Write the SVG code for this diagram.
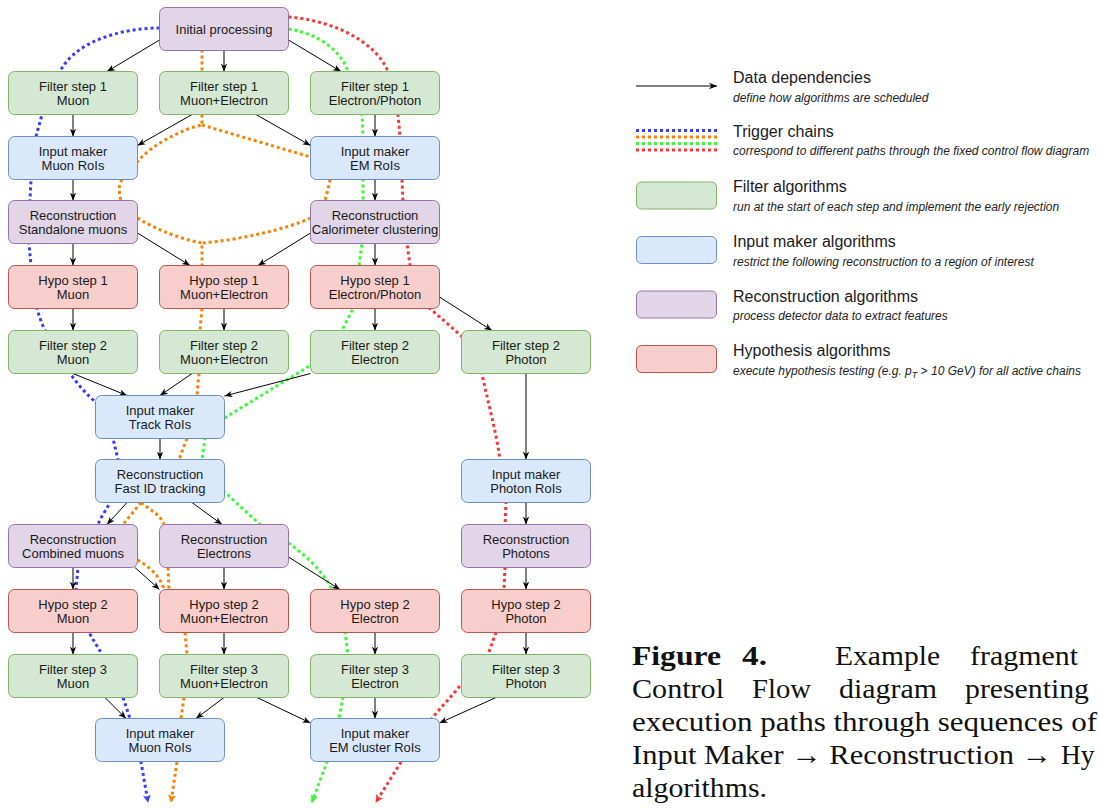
<svg xmlns="http://www.w3.org/2000/svg" width="1099" height="809" viewBox="0 0 1099 809">
<style>
.filter{fill:#d5e8d4;stroke:#82b366;stroke-width:1}
.input{fill:#dae8fc;stroke:#6c8ebf;stroke-width:1}
.reco{fill:#e1d5e7;stroke:#9673a6;stroke-width:1}
.hypo{fill:#f8cecc;stroke:#b85450;stroke-width:1}
.lbl{font-family:"Liberation Sans",Arial,sans-serif;font-size:13px;fill:#1a1a1a;text-anchor:middle}
.edge{fill:none;stroke:#000;stroke-width:1;marker-end:url(#ah)}
.chain{fill:none;stroke-width:3;stroke-dasharray:3 3}
.cb{stroke:#3a3aff}.co{stroke:#ff8000}.cg{stroke:#33ff33}.cr{stroke:#ff3333}
.lt{font-family:"Liberation Sans",Arial,sans-serif;font-size:16px;fill:#1a1a1a}
.ls{font-family:"Liberation Sans",Arial,sans-serif;font-size:12px;font-style:italic;fill:#222}
.cap{font-family:"Liberation Serif","Times New Roman",serif;font-size:27.5px;fill:#111}
</style>
<defs>
<marker id="ah" viewBox="0 0 10 10" refX="10" refY="5" markerWidth="8" markerHeight="8" orient="auto" markerUnits="userSpaceOnUse"><path d="M0,1 L10,5 L0,9 L3,5 z" fill="#000"/></marker>
<marker id="mb" viewBox="0 0 10 10" refX="9" refY="5" markerWidth="8" markerHeight="8" orient="auto" markerUnits="userSpaceOnUse"><path d="M0,0 L10,5 L0,10 L2.5,5 z" fill="#3a3aff"/></marker>
<marker id="mo" viewBox="0 0 10 10" refX="9" refY="5" markerWidth="8" markerHeight="8" orient="auto" markerUnits="userSpaceOnUse"><path d="M0,0 L10,5 L0,10 L2.5,5 z" fill="#ff8000"/></marker>
<marker id="mg" viewBox="0 0 10 10" refX="9" refY="5" markerWidth="8" markerHeight="8" orient="auto" markerUnits="userSpaceOnUse"><path d="M0,0 L10,5 L0,10 L2.5,5 z" fill="#33ff33"/></marker>
<marker id="mr" viewBox="0 0 10 10" refX="9" refY="5" markerWidth="8" markerHeight="8" orient="auto" markerUnits="userSpaceOnUse"><path d="M0,0 L10,5 L0,10 L2.5,5 z" fill="#ff3333"/></marker>
</defs>
<rect width="1099" height="809" fill="#fff"/>

<g id="connectors">
<g id="chains">
<path class="chain cb" marker-end="url(#mb)" d="M159.5,28 C120,28 75,42 60,71.5 L42,114.5 C40,122 38,129 36,136.5 L31,179.5 L30,200.5 L29,243.5 L31,265.5 L37,308.5 C39,316 42,324 45,330.5 L70,373.5 C77,383 85,393 95.5,402 L113,438.5 L118,459.5 L110,502.5 C106,510 101,517 98,524.5 L78,567.5 L76,589.5 L89,632.5 C93,640 98,647 102,654.5 L123,697.5 L130,718.5 L141,762 L148,802"/>
<path class="chain co" d="M202,49.5 L202,71.5 M202,114.5 L202,125 C185,128 150,145 137.5,162 M202,125 L310.5,157 M122,179.5 C118,186 119,193 121,200.5 M330,179.5 C329,186 327,193 325,200.5 M137.5,218 C150,226 175,238 202,243 L202,265.5 M310.5,218 C290,228 240,240 202,243 M202,308.5 L200,330.5 M199,373.5 L197,395.5 M187,438.5 L179,459.5 M141,502.5 L123,524.5 M141,502.5 C150,510 160,514 164,524.5 M137.5,560 C148,566 160,575 164,589.5 M168,567.5 L169,589.5 M185,632.5 L187,654.5 M184,697.5 L181,718.5"/>
<path class="chain co" marker-end="url(#mo)" d="M177,762 L171,802"/>
<path class="chain cg" marker-end="url(#mg)" d="M288.5,29 C315,33 340,48 348,71.5 L362,114.5 L363,136.5 L363,179.5 L363,200.5 L362,243.5 L359,265.5 L353,308.5 L342,330.5 L311,365 L224.5,418 L205,438.5 L202,459.5 L224.5,492 L260,524.5 L288.5,543 C305,555 322,570 332,589.5 L345,632.5 L348,654.5 L343,697.5 L339,718.5 L327,762 L312,802"/>
<path class="chain cr" marker-end="url(#mr)" d="M288.5,17 C330,20 375,40 388,71.5 L398,114.5 L400,136.5 L402,179.5 L403,200.5 L407,243.5 L410,265.5 L430,308.5 L461.5,336 L482,373.5 C486,395 496,430 500,459.5 L506,502.5 L505,524.5 L505,567.5 L504,589.5 L496,632.5 L488,654.5 L461.5,684 C452,696 441,707 432,718.5 L401,762 L376,802"/>
</g>
<g id="edges">
<path class="edge" d="M159.5,40 L107,71.5"/>
<path class="edge" d="M224,50.5 L224,71.5"/>
<path class="edge" d="M288.5,40 L341,71.5"/>
<path class="edge" d="M73,114.5 L73,136.5"/>
<path class="edge" d="M192,114.5 L137.5,145.5"/>
<path class="edge" d="M256,114.5 L310.5,145.5"/>
<path class="edge" d="M375,114.5 L375,136.5"/>
<path class="edge" d="M73,179.5 L73,200.5"/>
<path class="edge" d="M375,179.5 L375,200.5"/>
<path class="edge" d="M73,243.5 L73,265.5"/>
<path class="edge" d="M137.5,233 L190,265.5"/>
<path class="edge" d="M310.5,233 L258,265.5"/>
<path class="edge" d="M375,243.5 L375,265.5"/>
<path class="edge" d="M73,308.5 L73,330.5"/>
<path class="edge" d="M224,308.5 L224,330.5"/>
<path class="edge" d="M375,308.5 L375,330.5"/>
<path class="edge" d="M439.5,297 L492,330.5"/>
<path class="edge" d="M73,373.5 L127,395.5"/>
<path class="edge" d="M192,373.5 L160,395.5"/>
<path class="edge" d="M310.5,373.5 L224.5,396"/>
<path class="edge" d="M526,373.5 L526,459.5"/>
<path class="edge" d="M160,438.5 L160,459.5"/>
<path class="edge" d="M127,502.5 L107,524.5"/>
<path class="edge" d="M192,502.5 L222,524.5"/>
<path class="edge" d="M526,502.5 L526,524.5"/>
<path class="edge" d="M73,567.5 L73,589.5"/>
<path class="edge" d="M135,567.5 L159.5,589.5"/>
<path class="edge" d="M224,567.5 L224,589.5"/>
<path class="edge" d="M288.5,557 L340,589.5"/>
<path class="edge" d="M526,567.5 L526,589.5"/>
<path class="edge" d="M73,632.5 L73,654.5"/>
<path class="edge" d="M224,632.5 L224,654.5"/>
<path class="edge" d="M375,632.5 L375,654.5"/>
<path class="edge" d="M526,632.5 L526,654.5"/>
<path class="edge" d="M105,697.5 L126,718.5"/>
<path class="edge" d="M224,697.5 L196,718.5"/>
<path class="edge" d="M257,697.5 L310.5,723"/>
<path class="edge" d="M375,697.5 L375,718.5"/>
<path class="edge" d="M496,697.5 L439.5,723"/>
</g>
</g>

<g id="nodes">
<g id="n-initial"><rect class="reco" x="159.5" y="7.5" width="129" height="43" rx="6"/><text class="lbl" x="224" y="33.5">Initial processing</text></g>

<g id="n-f1-mu"><rect class="filter" x="8.5" y="71.5" width="129" height="43" rx="6"/><text class="lbl" x="73" y="90.8">Filter step 1</text><text class="lbl" x="73" y="105">Muon</text></g>
<g id="n-f1-mue"><rect class="filter" x="159.5" y="71.5" width="129" height="43" rx="6"/><text class="lbl" x="224" y="90.8">Filter step 1</text><text class="lbl" x="224" y="105">Muon+Electron</text></g>
<g id="n-f1-eg"><rect class="filter" x="310.5" y="71.5" width="129" height="43" rx="6"/><text class="lbl" x="375" y="90.8">Filter step 1</text><text class="lbl" x="375" y="105">Electron/Photon</text></g>

<g id="n-im-mu"><rect class="input" x="8.5" y="136.5" width="129" height="43" rx="6"/><text class="lbl" x="73" y="155.8">Input maker</text><text class="lbl" x="73" y="170">Muon RoIs</text></g>
<g id="n-im-em"><rect class="input" x="310.5" y="136.5" width="129" height="43" rx="6"/><text class="lbl" x="375" y="155.8">Input maker</text><text class="lbl" x="375" y="170">EM RoIs</text></g>

<g id="n-reco-sa"><rect class="reco" x="8.5" y="200.5" width="129" height="43" rx="6"/><text class="lbl" x="73" y="219.8">Reconstruction</text><text class="lbl" x="73" y="234">Standalone muons</text></g>
<g id="n-reco-calo"><rect class="reco" x="310.5" y="200.5" width="129" height="43" rx="6"/><text class="lbl" x="375" y="219.8">Reconstruction</text><text class="lbl" x="375" y="234">Calorimeter clustering</text></g>

<g id="n-h1-mu"><rect class="hypo" x="8.5" y="265.5" width="129" height="43" rx="6"/><text class="lbl" x="73" y="284.8">Hypo step 1</text><text class="lbl" x="73" y="299">Muon</text></g>
<g id="n-h1-mue"><rect class="hypo" x="159.5" y="265.5" width="129" height="43" rx="6"/><text class="lbl" x="224" y="284.8">Hypo step 1</text><text class="lbl" x="224" y="299">Muon+Electron</text></g>
<g id="n-h1-eg"><rect class="hypo" x="310.5" y="265.5" width="129" height="43" rx="6"/><text class="lbl" x="375" y="284.8">Hypo step 1</text><text class="lbl" x="375" y="299">Electron/Photon</text></g>

<g id="n-f2-mu"><rect class="filter" x="8.5" y="330.5" width="129" height="43" rx="6"/><text class="lbl" x="73" y="349.8">Filter step 2</text><text class="lbl" x="73" y="364">Muon</text></g>
<g id="n-f2-mue"><rect class="filter" x="159.5" y="330.5" width="129" height="43" rx="6"/><text class="lbl" x="224" y="349.8">Filter step 2</text><text class="lbl" x="224" y="364">Muon+Electron</text></g>
<g id="n-f2-e"><rect class="filter" x="310.5" y="330.5" width="129" height="43" rx="6"/><text class="lbl" x="375" y="349.8">Filter step 2</text><text class="lbl" x="375" y="364">Electron</text></g>
<g id="n-f2-g"><rect class="filter" x="461.5" y="330.5" width="129" height="43" rx="6"/><text class="lbl" x="526" y="349.8">Filter step 2</text><text class="lbl" x="526" y="364">Photon</text></g>

<g id="n-im-trk"><rect class="input" x="95.5" y="395.5" width="129" height="43" rx="6"/><text class="lbl" x="160" y="414.8">Input maker</text><text class="lbl" x="160" y="429">Track RoIs</text></g>

<g id="n-reco-id"><rect class="input" x="95.5" y="459.5" width="129" height="43" rx="6"/><text class="lbl" x="160" y="478.8">Reconstruction</text><text class="lbl" x="160" y="493">Fast ID tracking</text></g>
<g id="n-im-ph"><rect class="input" x="461.5" y="459.5" width="129" height="43" rx="6"/><text class="lbl" x="526" y="478.8">Input maker</text><text class="lbl" x="526" y="493">Photon RoIs</text></g>

<g id="n-reco-cb"><rect class="reco" x="8.5" y="524.5" width="129" height="43" rx="6"/><text class="lbl" x="73" y="543.8">Reconstruction</text><text class="lbl" x="73" y="558">Combined muons</text></g>
<g id="n-reco-el"><rect class="reco" x="159.5" y="524.5" width="129" height="43" rx="6"/><text class="lbl" x="224" y="543.8">Reconstruction</text><text class="lbl" x="224" y="558">Electrons</text></g>
<g id="n-reco-ph"><rect class="reco" x="461.5" y="524.5" width="129" height="43" rx="6"/><text class="lbl" x="526" y="543.8">Reconstruction</text><text class="lbl" x="526" y="558">Photons</text></g>

<g id="n-h2-mu"><rect class="hypo" x="8.5" y="589.5" width="129" height="43" rx="6"/><text class="lbl" x="73" y="608.8">Hypo step 2</text><text class="lbl" x="73" y="623">Muon</text></g>
<g id="n-h2-mue"><rect class="hypo" x="159.5" y="589.5" width="129" height="43" rx="6"/><text class="lbl" x="224" y="608.8">Hypo step 2</text><text class="lbl" x="224" y="623">Muon+Electron</text></g>
<g id="n-h2-e"><rect class="hypo" x="310.5" y="589.5" width="129" height="43" rx="6"/><text class="lbl" x="375" y="608.8">Hypo step 2</text><text class="lbl" x="375" y="623">Electron</text></g>
<g id="n-h2-g"><rect class="hypo" x="461.5" y="589.5" width="129" height="43" rx="6"/><text class="lbl" x="526" y="608.8">Hypo step 2</text><text class="lbl" x="526" y="623">Photon</text></g>

<g id="n-f3-mu"><rect class="filter" x="8.5" y="654.5" width="129" height="43" rx="6"/><text class="lbl" x="73" y="673.8">Filter step 3</text><text class="lbl" x="73" y="688">Muon</text></g>
<g id="n-f3-mue"><rect class="filter" x="159.5" y="654.5" width="129" height="43" rx="6"/><text class="lbl" x="224" y="673.8">Filter step 3</text><text class="lbl" x="224" y="688">Muon+Electron</text></g>
<g id="n-f3-e"><rect class="filter" x="310.5" y="654.5" width="129" height="43" rx="6"/><text class="lbl" x="375" y="673.8">Filter step 3</text><text class="lbl" x="375" y="688">Electron</text></g>
<g id="n-f3-g"><rect class="filter" x="461.5" y="654.5" width="129" height="43" rx="6"/><text class="lbl" x="526" y="673.8">Filter step 3</text><text class="lbl" x="526" y="688">Photon</text></g>

<g id="n-im-mu3"><rect class="input" x="95.5" y="718.5" width="129" height="43" rx="6"/><text class="lbl" x="160" y="737.8">Input maker</text><text class="lbl" x="160" y="752">Muon RoIs</text></g>
<g id="n-im-emc"><rect class="input" x="310.5" y="718.5" width="129" height="43" rx="6"/><text class="lbl" x="375" y="737.8">Input maker</text><text class="lbl" x="375" y="752">EM cluster RoIs</text></g>
</g>

<g id="legend">
<path d="M636,86 L717,86" fill="none" stroke="#000" stroke-width="1" marker-end="url(#ah)"/>
<text class="lt" x="733" y="83">Data dependencies</text>
<text class="ls" x="733" y="102">define how algorithms are scheduled</text>
<path class="chain cb" d="M636,130.5 H717"/>
<path class="chain co" d="M636,137 H717"/>
<path class="chain cg" d="M636,143.5 H717"/>
<path class="chain cr" d="M636,150 H717"/>
<text class="lt" x="733" y="137">Trigger chains</text>
<text class="ls" x="733" y="155">correspond to different paths through the fixed control flow diagram</text>
<rect class="filter" x="636.5" y="182" width="80" height="27" rx="5"/>
<text class="lt" x="733" y="192">Filter algorithms</text>
<text class="ls" x="733" y="211">run at the start of each step and implement the early rejection</text>
<rect class="input" x="636.5" y="236.5" width="80" height="27" rx="5"/>
<text class="lt" x="733" y="247">Input maker algorithms</text>
<text class="ls" x="733" y="265.5">restrict the following reconstruction to a region of interest</text>
<rect class="reco" x="636.5" y="291" width="80" height="27" rx="5"/>
<text class="lt" x="733" y="302">Reconstruction algorithms</text>
<text class="ls" x="733" y="320">process detector data to extract features</text>
<rect class="hypo" x="636.5" y="345.5" width="80" height="27" rx="5"/>
<text class="lt" x="733" y="356">Hypothesis algorithms</text>
<text class="ls" x="733" y="374.5">execute hypothesis testing (e.g. p<tspan font-size="9" dy="3">T</tspan><tspan dy="-3"> &gt; 10 GeV) for all active chains</tspan></text>
</g>

<g id="caption" class="cap">
<text x="632" y="665" font-weight="bold" textLength="89" lengthAdjust="spacingAndGlyphs">Figure</text>
<text x="742" y="665" font-weight="bold" textLength="25" lengthAdjust="spacingAndGlyphs">4.</text>
<text x="835" y="665" textLength="105" lengthAdjust="spacingAndGlyphs">Example</text>
<text x="970" y="665" textLength="108" lengthAdjust="spacingAndGlyphs">fragment</text>
<text x="632" y="698" textLength="92" lengthAdjust="spacingAndGlyphs">Control</text>
<text x="752" y="698" textLength="59" lengthAdjust="spacingAndGlyphs">Flow</text>
<text x="839" y="698" textLength="98" lengthAdjust="spacingAndGlyphs">diagram</text>
<text x="965" y="698" textLength="124" lengthAdjust="spacingAndGlyphs">presenting</text>
<text x="632" y="731" textLength="465" lengthAdjust="spacingAndGlyphs">execution paths through sequences of</text>
<text x="632" y="764" textLength="420" lengthAdjust="spacingAndGlyphs">Input Maker → Reconstruction →</text>
<text x="1061" y="764">Hy</text>
<text x="632" y="797" textLength="135" lengthAdjust="spacingAndGlyphs">algorithms.</text>
</g>
</svg>
